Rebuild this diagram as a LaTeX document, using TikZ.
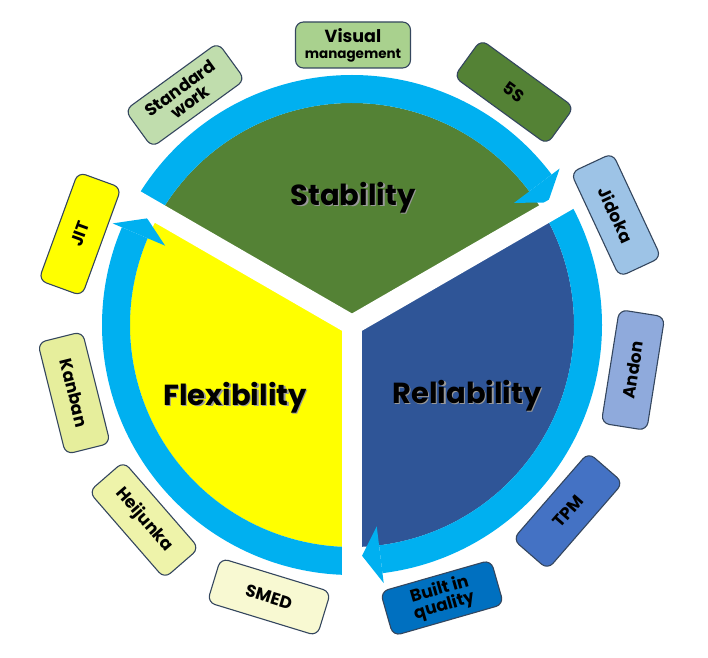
\documentclass[tikz,border=0pt]{standalone}
\usepackage{fontspec}
\setmainfont{Poppins}
\definecolor{stabgreen}{HTML}{548235}
\definecolor{flexyellow}{HTML}{FFFF00}
\definecolor{relblue}{HTML}{2F5597}
\definecolor{ringblue}{HTML}{00B0F0}
\definecolor{swgreen}{HTML}{C0DDAD}
\definecolor{vmgreen}{HTML}{A9D18E}
\definecolor{jidblue}{HTML}{9DC3E6}
\definecolor{andblue}{HTML}{8FAADC}
\definecolor{tpmblue}{HTML}{4472C4}
\definecolor{biqblue}{HTML}{0070C0}
\definecolor{kanyel}{HTML}{E6EE9C}
\definecolor{heiyel}{HTML}{EEF3AA}
\definecolor{smedyel}{HTML}{F8F9D2}
\definecolor{boxline}{HTML}{34465E}
\begin{document}
\begin{tikzpicture}[x=1pt,y=1pt,
  toolbox/.style={draw=boxline, line width=1.1pt, rounded corners=8pt,
    minimum width=115pt, minimum height=46pt, inner sep=2pt, align=center,
    font=\bfseries\fontsize{17}{17}\selectfont},
  pillar/.style={font=\bfseries\fontsize{29}{30}\selectfont, anchor=base},
  pillarshadow/.style={pillar, text=black!40},
  gapline/.style={white, line width=20pt},
  ringband/.style={fill=ringblue}]
\useasboundingbox (0,0) rectangle (708,657);
\begin{scope}[shift={(352,332)}]
  % sectors
  \fill[stabgreen] (0,0) -- (30:222) arc[start angle=30,end angle=150,radius=222] -- cycle;
  \fill[relblue] (0,0) -- (-90:222) arc[start angle=-90,end angle=30,radius=222] -- cycle;
  \fill[flexyellow] (0,0) -- (150:222) arc[start angle=150,end angle=270,radius=222] -- cycle;
  % ring bands with arrow heads
  \fill[ringband] (150:250) arc[start angle=150,end angle=37,radius=250] -- (37:222) arc[start angle=37,end angle=150,radius=222] -- cycle;
  \fill[ringband] (37:203) -- (37:260) -- (32:231) -- cycle;
  \fill[ringband] (30:250) arc[start angle=30,end angle=-83,radius=250] -- (-83:222) arc[start angle=-83,end angle=30,radius=222] -- cycle;
  \fill[ringband] (-83:203) -- (-83:260) -- (-87.5:231) -- cycle;
  \fill[ringband] (270:250) arc[start angle=270,end angle=157,radius=250] -- (157:222) arc[start angle=157,end angle=270,radius=222] -- cycle;
  \fill[ringband] (157:203) -- (157:260) -- (152.5:231) -- cycle;
  % gaps
  \coordinate (ctr) at (0,0);
  \coordinate (g1) at (30:256);
  \coordinate (g2) at (150:256);
  \coordinate (g3) at (270:256);
  \draw[gapline] (ctr) -- (g1);
  \draw[gapline] (ctr) -- (g2);
  \draw[gapline] (ctr) -- (g3);
\end{scope}
% pillar labels
\node[pillarshadow] at (354.5,450.5) {Stability};
\node[pillar] (stab) at (353,452) {Stability};
\node[pillarshadow] at (236.5,250.5) {Flexibility};
\node[pillar] (flex) at (235,252) {Flexibility};
\node[pillarshadow] at (468.5,252.5) {Reliability};
\node[pillar] (rel) at (467,254) {Reliability};
% tool boxes
\node[toolbox, fill=swgreen, rotate=36] (sw) at (185,562) {Standard\\work};
\node[toolbox, fill=vmgreen] (vm) at (353,612) {\fontsize{17.5}{17}\selectfont Visual\\[-1pt]\fontsize{13.5}{13}\selectfont management};
\node[toolbox, fill=stabgreen, rotate=-36] (fives) at (514,565) {5S};
\node[toolbox, fill=jidblue, rotate=-65] (jid) at (616,442) {Jidoka};
\node[toolbox, fill=andblue, rotate=81] (andon) at (633,287) {Andon};
\node[toolbox, fill=tpmblue, rotate=49] (tpm) at (568,146) {TPM};
\node[toolbox, fill=biqblue, rotate=16] (biq) at (442,59) {Built in\\quality};
\node[toolbox, fill=smedyel, rotate=-17] (smed) at (269,60) {SMED};
\node[toolbox, fill=heiyel, rotate=-49] (hei) at (144,137) {Heijunka};
\node[toolbox, fill=kanyel, rotate=-76] (kan) at (74,264) {Kanban};
\node[toolbox, fill=flexyellow, rotate=70] (jit) at (80,423) {JIT};
\end{tikzpicture}
\end{document}
